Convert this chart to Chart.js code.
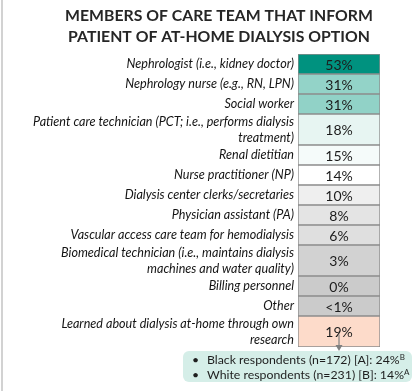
<!DOCTYPE html>
<html>
<head>
<meta charset="utf-8">
<script src="https://cdn.jsdelivr.net/npm/chart.js@4.4.0/dist/chart.umd.min.js"></script>
<style>
  html, body { margin: 0; padding: 0; background: #fff; }
  #wrap { position: relative; width: 418px; height: 391px; overflow: hidden; }
  #edge { position: absolute; left: 1px; top: 0; width: 2px; height: 391px; background: #d2d2d2; }
  #callout {
    position: absolute; left: 183px; top: 351px; width: 229px; height: 31px;
    background: #d5eee8; border-radius: 6px;
    font-family: Lato, sans-serif; font-size: 12.3px; color: #1e1e1e; line-height: 15px;
    padding-top: 1px; box-sizing: border-box;
  }
  #callout .row { position: relative; padding-left: 24px; white-space: nowrap; }
  #callout .row:before { content: "\2022"; position: absolute; left: 9px; }
  #callout sup { font-size: 8px; line-height: 0; vertical-align: 4px; }
</style>
</head>
<body>
<div id="wrap">
  <canvas id="careTeamChart" width="418" height="391"></canvas>
  <div id="edge"></div>
  <div id="callout"></div>
</div>
<script>
const titleLines = ['MEMBERS OF CARE TEAM THAT INFORM', 'PATIENT OF AT-HOME DIALYSIS OPTION'];

const roles = [
  ['Nephrologist (i.e., kidney doctor)'],
  ['Nephrology nurse (e.g., RN, LPN)'],
  ['Social worker'],
  ['Patient care technician (PCT; i.e., performs dialysis', 'treatment)'],
  ['Renal dietitian'],
  ['Nurse practitioner (NP)'],
  ['Dialysis center clerks/secretaries'],
  ['Physician assistant (PA)'],
  ['Vascular access care team for hemodialysis'],
  ['Biomedical technician (i.e., maintains dialysis', 'machines and water quality)'],
  ['Billing personnel'],
  ['Other'],
  ['Learned about dialysis at-home through own', 'research']
];
const shares = [53, 31, 31, 18, 15, 14, 10, 8, 6, 3, 0, 0.4, 19];

// subgroup detail for the last row
const groups = ['Black respondents', 'White respondents'];
const groupN = [172, 231];
const groupTag = ['A', 'B'];
const groupShare = [24, 14];
const groupSig = ['B', 'A'];

const cellColors = ['#00927f', '#93d3c8', '#91d2c7', '#e7f5f2', '#f5fbfa', '#ffffff',
  '#efefef', '#e4e4e4', '#dfdfdf', '#d2d2d2', '#cbcbcb', '#cbcbcb', '#fddbca'];

// row heights follow the number of label lines
const rowH = roles.map(r => 20 + 11 * (r.length - 1));
const rowStart = [];
rowH.reduce((acc, h, i) => { rowStart[i] = acc; return acc + h; }, 0);
const total = rowH.reduce((a, b) => a + b, 0);
const centers = rowStart.map((s, i) => s + rowH[i] / 2);

const fmt = v => (v > 0 && v < 1) ? '<1%' : Math.round(v) + '%';

document.getElementById('callout').innerHTML = groups.map((g, i) =>
  '<div class="row">' + g + ' (n=' + groupN[i] + ') [' + groupTag[i] + ']: ' +
  groupShare[i] + '%<sup>' + groupSig[i] + '</sup></div>').join('');

const calloutTop = 351;

const cellText = {
  id: 'cellText',
  afterDatasetsDraw(chart) {
    const c = chart.ctx;
    const bars = chart.getDatasetMeta(0).data;
    c.save();
    c.font = '14px Lato';
    c.fillStyle = '#1c1c1c';
    c.textAlign = 'center';
    c.textBaseline = 'middle';
    bars.forEach((b, i) => {
      c.fillText(fmt(shares[i]), b.x, (b.y + b.base) / 2 + 1);
    });
    // arrow from the last cell to the callout
    const last = bars[bars.length - 1];
    const y0 = (last.y + last.base) / 2 + 3;
    c.strokeStyle = '#808080';
    c.fillStyle = '#808080';
    c.lineWidth = 1.2;
    c.beginPath();
    c.moveTo(last.x, y0);
    c.lineTo(last.x, calloutTop - 4);
    c.stroke();
    c.beginPath();
    c.moveTo(last.x - 3.5, calloutTop - 6);
    c.lineTo(last.x + 3.5, calloutTop - 6);
    c.lineTo(last.x, calloutTop);
    c.closePath();
    c.fill();
    c.restore();
  }
};

new Chart(document.getElementById('careTeamChart'), {
  type: 'bar',
  data: {
    labels: ['share'],
    datasets: [{
      data: shares.map((v, i) => ({ x: 'share', y: [rowStart[i], rowStart[i] + rowH[i]] })),
      backgroundColor: cellColors,
      borderColor: '#8c8c8c',
      borderWidth: 1,
      borderSkipped: false,
      categoryPercentage: 1,
      barPercentage: 1
    }]
  },
  options: {
    responsive: false,
    animation: false,
    layout: { padding: { left: 20, right: 0, top: 0, bottom: 44 } },
    plugins: {
      legend: { display: false },
      tooltip: { enabled: false },
      title: {
        display: true,
        text: titleLines,
        color: '#262626',
        font: { family: 'Lato', size: 15.8, weight: 'bold', lineHeight: 1.33 },
        padding: { top: 5, bottom: 7 }
      }
    },
    scales: {
      x: { display: false },
      y: {
        type: 'linear',
        reverse: true,
        min: 0,
        max: total,
        afterFit: axis => { axis.width = 278; },
        afterBuildTicks: axis => { axis.ticks = centers.map(v => ({ value: v })); },
        grid: { display: false, drawTicks: false },
        border: { display: false },
        ticks: {
          autoSkip: false,
          padding: 4,
          color: '#141414',
          font: { family: 'Lato', style: 'italic', size: 12.6, lineHeight: 1.27 },
          callback: (value, index) => roles[index]
        }
      },
      // empty right-hand margin so the title centres like the original
      yRight: {
        type: 'linear',
        position: 'right',
        grid: { display: false, drawTicks: false },
        border: { display: false },
        ticks: { display: false },
        afterFit: axis => { axis.width = 38; }
      }
    }
  },
  plugins: [cellText]
});
</script>
</body>
</html>
